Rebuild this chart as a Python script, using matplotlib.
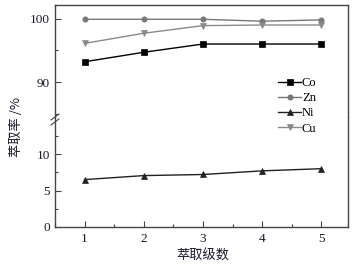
import matplotlib.pyplot as plt
from matplotlib.ticker import MultipleLocator, FixedLocator

plt.rcParams['font.family'] = ['Liberation Serif', 'Noto Sans CJK SC']

stages = [1, 2, 3, 4, 5]
co = [93.2, 94.7, 96.0, 96.0, 96.0]
zn = [99.9, 99.9, 99.9, 99.6, 99.8]
ni = [6.5, 7.05, 7.2, 7.7, 8.0]
cu = [96.1, 97.7, 98.9, 99.0, 99.0]

fig = plt.figure(figsize=(3.57, 2.67), dpi=100)
ax_top = fig.add_axes([0.154, 0.562, 0.821, 0.418])
ax_bot = fig.add_axes([0.154, 0.150, 0.821, 0.412])

spine_col = '#444444'
series = [
    ('Co', co, 's', 'black'),
    ('Zn', zn, 'o', '#777777'),
    ('Ni', ni, '^', '#222222'),
    ('Cu', cu, 'v', '#8a8a8a'),
]

handles = []
for name, vals, mk, col in series:
    ax = ax_bot if name == 'Ni' else ax_top
    h, = ax.plot(stages, vals, marker=mk, color=col, lw=1.0, ms=3.8,
                 markeredgewidth=0.5, label=name)
    handles.append(h)

for ax in (ax_top, ax_bot):
    ax.set_xlim(0.5, 5.45)
    ax.xaxis.set_major_locator(MultipleLocator(1))
    ax.xaxis.set_minor_locator(MultipleLocator(0.5))
    ax.tick_params(which='both', direction='in', top=False, right=False,
                   color=spine_col, labelsize=9.5, labelcolor='#1a1a2a')
    ax.tick_params(which='major', length=4, width=0.8)
    ax.tick_params(which='minor', length=2.5, width=0.8)
    for s in ax.spines.values():
        s.set_color(spine_col)
        s.set_linewidth(1.0)

ax_top.set_ylim(84.5, 102.1)
ax_top.yaxis.set_major_locator(FixedLocator([90, 100]))
ax_top.yaxis.set_minor_locator(FixedLocator([85, 95]))
ax_top.spines['bottom'].set_visible(False)
ax_top.tick_params(axis='x', which='both', bottom=False, labelbottom=False)

ax_bot.set_ylim(0, 15.1)
ax_bot.yaxis.set_major_locator(FixedLocator([0, 5, 10]))
ax_bot.yaxis.set_minor_locator(FixedLocator([2.5, 7.5, 12.5]))
ax_bot.spines['top'].set_visible(False)
ax_bot.tick_params(axis='x', which='major', pad=4)

# break marks on the left spine
for dy in (0, 5):
    fig.add_artist(plt.Line2D([51 / 357, 59 / 357],
                              [1 - (120 + dy) / 267, 1 - (114 + dy) / 267],
                              color=spine_col, lw=0.8))

fig.legend(handles=handles, loc='upper left',
           bbox_to_anchor=(272 / 357, 1 - 71 / 267), frameon=False,
           fontsize=9, handlelength=1.8, handletextpad=0.1,
           labelspacing=0.25, borderpad=0)

fig.text(0.045, 0.524, '萃取率 /%', rotation=90, ha='center', va='center',
         fontsize=9.5, color='#1a1a2a', family=['Noto Sans CJK SC'])
fig.text(0.568, 0.04, '萃取级数', ha='center', va='center',
         fontsize=9.5, color='#1a1a2a', family=['Noto Sans CJK SC'])

fig.savefig('out.png', dpi=100)
